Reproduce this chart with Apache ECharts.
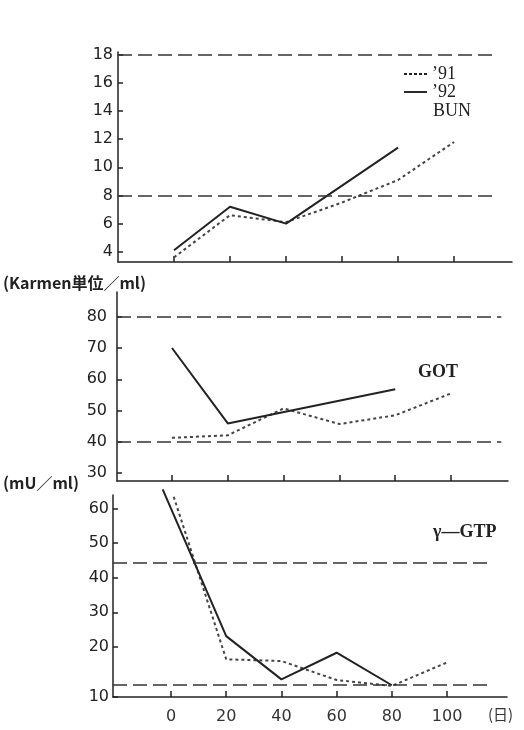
<!DOCTYPE html>
<html>
<head>
<meta charset="utf-8">
<script src="https://cdn.jsdelivr.net/npm/echarts@6/dist/echarts.min.js"></script>
<style>
html,body{margin:0;padding:0;background:#fff}
#chart{width:524px;height:730px}
</style>
</head>
<body>
<div id="chart"></div>
<script>
// 日数
var dayTicks = [0, 20, 40, 60, 80, 100];

// BUN
var bunTicks = [4, 6, 8, 10, 12, 14, 16, 18];
var bun91Days = [0, 20, 40, 60, 80, 100];
var bun91 = [3.6, 6.6, 6.1, 7.5, 9.1, 11.8];
var bun92Days = [0, 20, 40, 80];
var bun92 = [4.1, 7.2, 6.0, 11.4];
var bunLimits = [8, 18];

// GOT
var gotTicks = [30, 40, 50, 60, 70, 80];
var got91Days = [0, 20, 40, 60, 80, 100];
var got91 = [41.3, 42.1, 50.7, 45.7, 48.5, 55.5];
var got92Days = [0, 20, 80];
var got92 = [70, 45.9, 56.8];
var gotLimits = [40, 80];

// γ-GTP
var gtpTicks = [5.5, 20, 30, 40, 50, 60];
var gtpTickText = ['10', '20', '30', '40', '50', '60'];
var gtp91Days = [1, 20, 40, 60, 80, 100];
var gtp91 = [63.4, 16.4, 15.9, 10.4, 8.7, 15.5];
var gtp92Days = [-3, 20, 40, 60, 80];
var gtp92 = [65.5, 23.1, 10.6, 18.3, 8.9];
var gtpLimits = [44.3, 9.1];

function pairs(days, vals) {
    var out = [];
    for (var i = 0; i < days.length; i++) out.push([days[i], vals[i]]);
    return out;
}

var ink = '#222';
var numFont = 'DejaVu Sans';

function limitLines(limits, x0, x1) {
    var d = [];
    for (var i = 0; i < limits.length; i++) {
        d.push([{coord: [x0, limits[i]]}, {coord: [x1, limits[i]]}]);
    }
    return {
        silent: true, symbol: 'none', label: {show: false},
        lineStyle: {color: '#333', type: [14, 6], width: 1.5},
        emphasis: {disabled: true},
        data: d
    };
}

function xAxis(idx, min, max, showLabel) {
    return {
        type: 'value', gridIndex: idx, min: min, max: max,
        axisLine: {onZero: false, lineStyle: {color: ink, width: 1.5}},
        axisTick: {inside: true, length: 6, customValues: dayTicks, lineStyle: {color: ink, width: 1.5}},
        axisLabel: {show: showLabel, customValues: dayTicks, margin: 12,
            color: '#333', fontFamily: numFont, fontSize: 16},
        splitLine: {show: false}
    };
}

function yAxis(idx, min, max, ticks, margin, fmt) {
    return {
        type: 'value', gridIndex: idx, min: min, max: max,
        axisLine: {show: true, onZero: false, lineStyle: {color: ink, width: 1.5}},
        axisTick: {inside: true, length: 5, customValues: ticks, lineStyle: {color: ink, width: 1.5}},
        axisLabel: {customValues: ticks, margin: margin, color: ink,
            fontFamily: numFont, fontSize: 16, formatter: fmt},
        splitLine: {show: false}
    };
}

function line91(idx, data, mark) {
    var s = {
        name: "’91", type: 'line', xAxisIndex: idx, yAxisIndex: idx,
        data: data, symbol: 'none', clip: false,
        lineStyle: {color: '#444', width: 2, type: [3, 3]},
        itemStyle: {color: '#444'}
    };
    if (mark) s.markLine = mark;
    return s;
}
function line92(idx, data) {
    return {
        name: "’92", type: 'line', xAxisIndex: idx, yAxisIndex: idx,
        data: data, symbol: 'none', clip: false,
        lineStyle: {color: ink, width: 2},
        itemStyle: {color: ink}
    };
}

var dashIcon = 'path://M0,0H3V2H0Z M5,0H8V2H5Z M10,0H13V2H10Z M15,0H18V2H15Z M20,0H23V2H20Z';
var solidIcon = 'path://M0,0H24V2H0Z';

var chart = echarts.init(document.getElementById('chart'));
var option = {
    backgroundColor: '#fff',
    animation: false,
    grid: [
        {left: 118, top: 52, width: 394, height: 210},
        {left: 117, top: 292, width: 391, height: 189},
        {left: 113, top: 495, width: 394, height: 202}
    ],
    xAxis: [
        xAxis(0, -20, 120.7, false),
        xAxis(1, -19.7, 120.4, false),
        xAxis(2, -21, 121.7, true)
    ],
    yAxis: [
        yAxis(0, 3.27, 18.2, bunTicks, 5),
        yAxis(1, 27.5, 87.9, gotTicks, 10),
        yAxis(2, 5.5, 63.9, gtpTicks, 4, function (v) {
            var i = gtpTicks.indexOf(v);
            return i >= 0 ? gtpTickText[i] : v;
        })
    ],
    legend: {
        orient: 'vertical', left: 404, top: 65, itemGap: 0, padding: 0,
        itemWidth: 23, itemHeight: 2,
        data: [{name: "’91", icon: dashIcon}, {name: "’92", icon: solidIcon}],
        itemStyle: {color: ink},
        textStyle: {fontFamily: 'Liberation Serif', fontSize: 18, color: ink, lineHeight: 18}
    },
    series: [
        line91(0, pairs(bun91Days, bun91), limitLines(bunLimits, -20, 115)),
        line92(0, pairs(bun92Days, bun92)),
        line91(1, pairs(got91Days, got91), limitLines(gotLimits, -19.7, 118)),
        line92(1, pairs(got92Days, got92)),
        line91(2, pairs(gtp91Days, gtp91), limitLines(gtpLimits, -21, 116)),
        line92(2, pairs(gtp92Days, gtp92))
    ],
    graphic: [
        {type: 'text', left: 433, top: 102, style: {text: 'BUN', font: '18px "Liberation Serif"', fill: ink}},
        {type: 'text', left: 418, top: 363, style: {text: 'GOT', font: 'bold 18px "Liberation Serif"', fill: ink}},
        {type: 'text', left: 433, top: 523, style: {text: 'γ—GTP', font: 'bold 18px "Liberation Serif"', fill: ink}},
        {type: 'text', left: 3, top: 275, style: {text: '(Karmen単位／ml)', font: 'bold 16px "Noto Sans CJK JP"', fill: ink}},
        {type: 'text', left: 3, top: 475, style: {text: '(mU／ml)', font: 'bold 16px "Noto Sans CJK JP"', fill: ink}},
        {type: 'text', left: 488, top: 707, style: {text: '(日)', font: '15px "Noto Sans CJK JP"', fill: '#333'}}
    ]
};
chart.setOption(option);
</script>
</body>
</html>
